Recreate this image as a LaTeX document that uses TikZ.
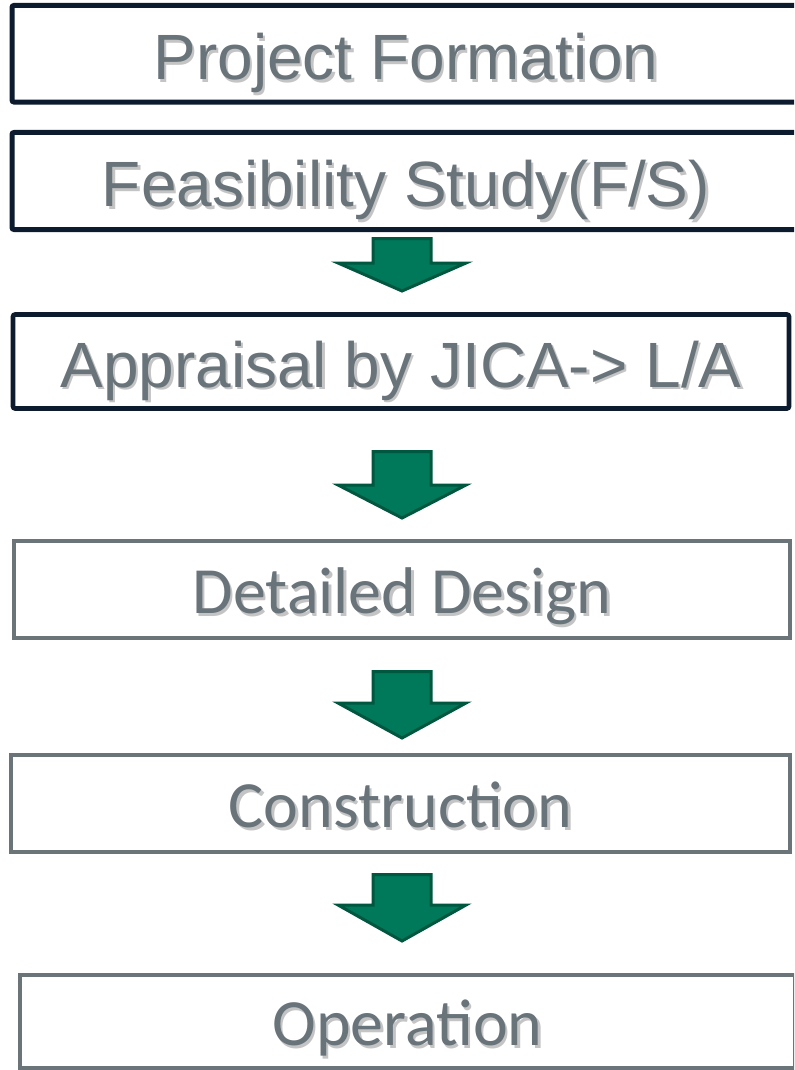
\documentclass[tikz,border=0pt]{standalone}
\usepackage{fontspec}
\setmainfont{Liberation Sans}
\newfontfamily\calibri{Carlito}
\usetikzlibrary{positioning}

\definecolor{navy}{HTML}{0C1B2D}
\definecolor{slate}{HTML}{6A7479}
\definecolor{txtgray}{HTML}{68737A}
\definecolor{txtshadow}{HTML}{C4C4C4}
\definecolor{arrowfill}{HTML}{00785A}
\definecolor{arrowline}{HTML}{00573F}

\newcommand{\shadowed}[1]{\makebox[0pt][l]{\hspace{1.8pt}\raisebox{-1.8pt}{\color{txtshadow}#1}}#1}
\newcommand{\flowdown}[3]{\draw[flowarrow] (373,#1) -- (431,#1) -- (431,#2) -- (466,#2) -- (402,#3) -- (338,#2) -- (373,#2) -- cycle;}

\tikzset{
  stage/.style={draw=navy, line width=3.75pt, rounded corners=1.5pt, fill=white,
    text=txtgray, font=\fontsize{48}{48}\selectfont,
    text height=38.9pt, text depth=0pt, inner sep=0pt},
  lowstage/.style={draw=slate, line width=3pt, fill=white,
    text=txtgray, font=\calibri\fontsize{49.5}{49.5}\selectfont,
    text height=36.4pt, text depth=0pt, inner sep=0pt},
  flowarrow/.style={fill=arrowfill, draw=arrowline, line width=2.25pt, line join=miter}
}

\begin{document}
\begin{tikzpicture}[x=0.75pt, y=-0.75pt]
\useasboundingbox (0,0) rectangle (794,1070);
\clip (0,0) rectangle (794,1070);
\fill[white] (0,0) rectangle (794,1070);

% stages
\node[stage, minimum width=591pt, minimum height=72.4pt] (formation) at (406,53.75) {\shadowed{Project Formation}};
\node[stage, minimum width=591pt, minimum height=72.75pt] (fs) at (406,181) {\shadowed{Feasibility Study(F/S)}};
\node[stage, minimum width=582pt, minimum height=70.5pt, line width=3.4pt] (appraisal) at (401,361.5) {\shadowed{Appraisal by JICA-> L/A}};
\node[lowstage, minimum width=582pt, minimum height=72.75pt] (design) at (402,589.5) {\shadowed{Detailed Design}};
\node[lowstage, minimum width=584.25pt, minimum height=72.75pt] (construction) at (400.5,803.5) {\shadowed{Construction}};
\node[lowstage, minimum width=581.25pt, minimum height=69.75pt] (operation) at (407.5,1021.5) {\shadowed{Operation}};

% arrows
\flowdown{238.5}{263}{291}
\flowdown{451.5}{485}{518}
\flowdown{671.5}{703}{738}
\flowdown{874.5}{905}{941}
\end{tikzpicture}
\end{document}
